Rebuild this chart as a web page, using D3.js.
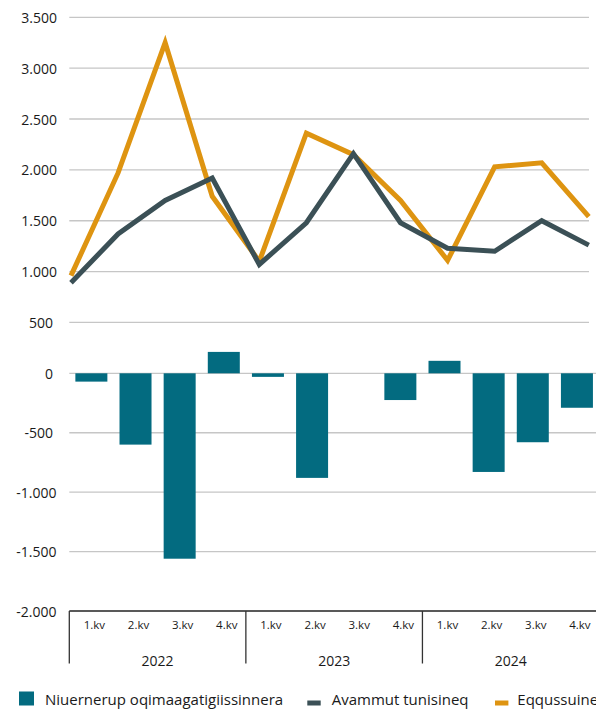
<!DOCTYPE html>
<html><head><meta charset="utf-8">
<script src="https://cdn.jsdelivr.net/npm/d3@7"></script>
<style>
html,body{margin:0;padding:0;background:#fff;overflow:hidden;}
text{font-family:"Open Sans",sans-serif;fill:#1a1a1a;}
</style></head>
<body>
<svg id="chart" width="596" height="709"></svg>
<script>
// ---- data ----
const quarters = ["1.kv","2.kv","3.kv","4.kv"];
const years = ["2022","2023","2024"];
const balance = [-70, -600, -1560, 180, -30, -880, 0, -225, 105, -830, -580, -290]; // Niuernerup oqimaagatigiissinnera
const exportsV = [890, 1370, 1700, 1920, 1070, 1480, 2160, 1480, 1230, 1200, 1500, 1260]; // Avammut tunisineq
const importsV = [960, 1970, 3250, 1740, 1100, 2360, 2150, 1700, 1110, 2030, 2070, 1540]; // Eqqussuineq
const lineTicks = [500, 1000, 1500, 2000, 2500, 3000, 3500];
const barTicks = [0, -500, -1000, -1500, -2000];
const legendNames = ["Niuernerup oqimaagatigiissinnera", "Avammut tunisineq", "Eqqussuineq"];

const colBar = "#036b80", colExp = "#3b5056", colImp = "#de9411";

const svg = d3.select("#chart");
const left = 69.3, barRight = 599, lineRight = 589;
const idx = d3.range(balance.length);

const yLine = d3.scaleLinear().domain([0, 3500]).range([373.3, 17.3]);
const yBar = d3.scaleLinear().domain([-2000, 0]).range([611, 373.3]);
const xBand = d3.scaleBand().domain(idx).range([left, barRight]).paddingInner(0.275).paddingOuter(0.1375);
const xPt = d3.scalePoint().domain(idx).range([71, 588.8]);

const loc = d3.formatLocale({decimal:",", thousands:".", grouping:[3], currency:["",""], minus:"-"});
const fmt = loc.format(",d");

// gridlines
svg.append("g").selectAll("line").data(lineTicks).join("line")
  .attr("x1", left).attr("x2", lineRight)
  .attr("y1", d => yLine(d)).attr("y2", d => yLine(d))
  .attr("stroke", "#c6c6c6").attr("stroke-width", 1.3);
svg.append("g").selectAll("line").data(barTicks.filter(d => d > -2000)).join("line")
  .attr("x1", left).attr("x2", barRight)
  .attr("y1", d => yBar(d)).attr("y2", d => yBar(d))
  .attr("stroke", "#c6c6c6").attr("stroke-width", 1.3);

// tick labels
const tl = svg.append("g").attr("font-size", 14).attr("text-anchor", "end");
tl.selectAll("text.l").data(lineTicks).join("text").attr("class","l")
  .attr("x", d => d >= 1000 ? 57 : 53).attr("y", d => yLine(d)).attr("dy", "0.4em").text(fmt);
tl.selectAll("text.b").data(barTicks).join("text").attr("class","b")
  .attr("x", d => d <= -1000 ? 56.5 : 53).attr("y", d => yBar(d)).attr("dy", "0.4em").text(fmt);

// bars
svg.append("g").selectAll("rect").data(idx).join("rect")
  .attr("x", i => xBand(i)).attr("width", xBand.bandwidth())
  .attr("y", i => Math.min(yBar(balance[i]), yBar(0)))
  .attr("height", i => Math.abs(yBar(balance[i]) - yBar(0)))
  .attr("fill", colBar);

// lines
const line = d3.line().x(i => xPt(i));
svg.append("path").datum(idx)
  .attr("d", line.y(i => yLine(importsV[i])))
  .attr("fill", "none").attr("stroke", colImp).attr("stroke-width", 5).attr("stroke-linejoin", "miter");
svg.append("path").datum(idx)
  .attr("d", line.y(i => yLine(exportsV[i])))
  .attr("fill", "none").attr("stroke", colExp).attr("stroke-width", 5).attr("stroke-linejoin", "miter");

// category axis
const axisY = yBar(-2000);
svg.append("line").attr("x1", left).attr("x2", 600).attr("y1", axisY).attr("y2", axisY)
  .attr("stroke", "#222").attr("stroke-width", 1.6);
const sepIdx = [0, 4, 8];
svg.append("g").selectAll("line").data(sepIdx).join("line")
  .attr("x1", i => xBand(i) - xBand.step() * 0.1375).attr("x2", i => xBand(i) - xBand.step() * 0.1375)
  .attr("y1", axisY).attr("y2", 663.5)
  .attr("stroke", "#333").attr("stroke-width", 1.3);
svg.append("g").selectAll("text").data(idx).join("text")
  .attr("x", i => xBand(i) + xBand.bandwidth() / 2 + 3).attr("y", 629)
  .attr("text-anchor", "middle").attr("font-size", 11.5)
  .text(i => quarters[i % 4]);
svg.append("g").selectAll("text").data(years).join("text")
  .attr("x", (d, j) => (xBand(j * 4) + xBand(j * 4 + 3) + xBand.bandwidth()) / 2).attr("y", 666)
  .attr("text-anchor", "middle").attr("font-size", 14)
  .text(d => d);

// legend
const lg = svg.append("g");
lg.append("rect").attr("x", 19).attr("y", 691.5).attr("width", 15).attr("height", 14).attr("fill", colBar);
lg.append("text").attr("x", 45).attr("y", 705).attr("font-size", 15).text(legendNames[0]);
lg.append("rect").attr("x", 307.3).attr("y", 700.5).attr("width", 13.4).attr("height", 5).attr("fill", colExp);
lg.append("text").attr("x", 331.7).attr("y", 705).attr("font-size", 15).text(legendNames[1]);
lg.append("rect").attr("x", 495).attr("y", 700.5).attr("width", 13.4).attr("height", 5).attr("fill", colImp);
lg.append("text").attr("x", 517.3).attr("y", 705).attr("font-size", 15).text(legendNames[2]);
</script>
</body></html>
